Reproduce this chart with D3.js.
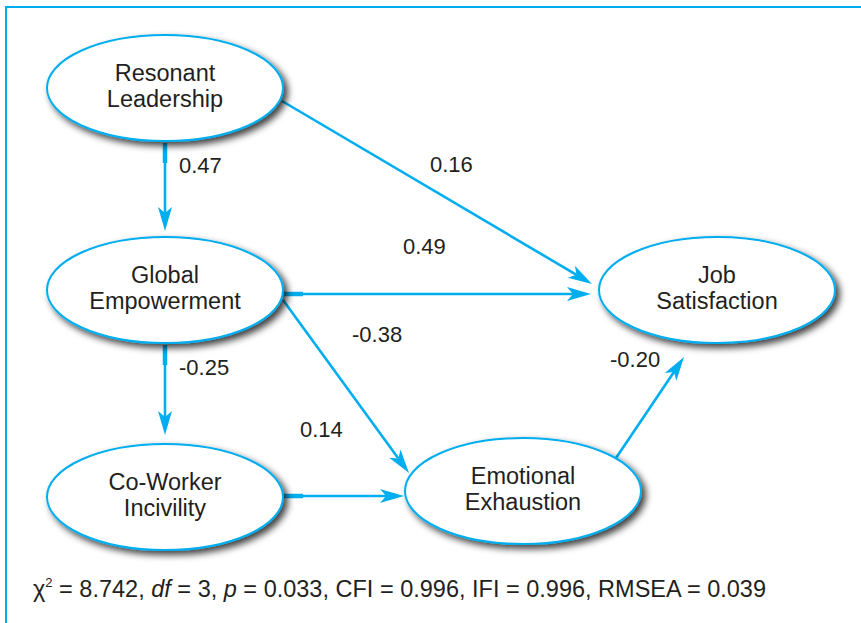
<!DOCTYPE html>
<html><head><meta charset="utf-8">
<script src="https://cdn.jsdelivr.net/npm/d3@7"></script>
<style>
html,body{margin:0;padding:0;background:#fff;}
svg{display:block;font-family:"Liberation Sans",Arial,Helvetica,sans-serif;}
</style></head>
<body><svg id="c" width="861" height="623"></svg>
<script>
// ---- data ----
const nodeIds = ["RL","GE","CWI","EE","JS"];
const nodeLines = [["Resonant","Leadership"],["Global","Empowerment"],["Co-Worker","Incivility"],["Emotional","Exhaustion"],["Job","Satisfaction"]];
const edgeFrom = ["RL","RL","GE","GE","GE","CWI","EE"];
const edgeTo   = ["GE","JS","JS","EE","CWI","EE","JS"];
const coefs    = [0.47,0.16,0.49,-0.38,-0.25,0.14,-0.20];
const fitNames = ["df","p","CFI","IFI","RMSEA"];
const chi2 = 8.742;
const fitValues = ["3","0.033","0.996","0.996","0.039"];

// ---- layout ----
const nodePos = {RL:[165,88],GE:[165,290],CWI:[165,497],EE:[523,491],JS:[717,290]};
const RX=118, RY=53;
const edgeGeom = [ // [x1,y1,x2,y2,labelX,labelY(baseline), stub]
  [165,143,165,231,179,173,1],
  [282,101,592,284,430,172,0],
  [283,294,591,294,403,254,1],
  [283,300,409,473,352,342,0],
  [165,345,165,435,179,375,1],
  [283,496,404,496,300,437,1],
  [616,458,684,357,610,367,0]
];
const BLUE="#00aeef", INK="#231f20";

const svg=d3.select("#c");
const defs=svg.append("defs");
const f=defs.append("filter").attr("id","sh").attr("x","-20%").attr("y","-20%").attr("width","150%").attr("height","160%");
f.append("feDropShadow").attr("dx",4).attr("dy",4).attr("stdDeviation",3.5).attr("flood-color","#000").attr("flood-opacity",0.75);

// frame
svg.append("line").attr("x1",5).attr("y1",7).attr("x2",861).attr("y2",7).attr("stroke",BLUE).attr("stroke-width",2);
svg.append("line").attr("x1",6).attr("y1",6).attr("x2",6).attr("y2",623).attr("stroke",BLUE).attr("stroke-width",2);

const fmt=v=>v.toFixed(2);
// edges
const eg=svg.append("g");
edgeGeom.forEach((g,i)=>{
  const [x1,y1,x2,y2,lx,ly,stub]=g;
  const dx=x2-x1, dy=y2-y1, L=Math.hypot(dx,dy), ux=dx/L, uy=dy/L, px=-uy, py=ux;
  const HL=24, HW=7, notch=6;
  const bx=x2-ux*HL, by=y2-uy*HL;
  eg.append("line").attr("x1",x1).attr("y1",y1).attr("x2",x2-ux*(HL-notch)).attr("y2",y2-uy*(HL-notch))
    .attr("stroke",BLUE).attr("stroke-width",2.6);
  if(stub) eg.append("line").attr("x1",x1).attr("y1",y1).attr("x2",x1+ux*20).attr("y2",y1+uy*20)
    .attr("stroke",BLUE).attr("stroke-width",4.5);
  const pts=[[x2,y2],[bx+px*HW,by+py*HW],[bx+ux*notch,by+uy*notch],[bx-px*HW,by-py*HW]];
  eg.append("path").attr("d","M"+pts.map(p=>p.join(",")).join("L")+"Z").attr("fill",BLUE);
  eg.append("text").attr("x",lx).attr("y",ly).attr("font-size",22).attr("fill",INK).text(fmt(coefs[i]));
});

// nodes
const ng=svg.append("g");
nodeIds.forEach((id,i)=>{
  const [cx,cy]=nodePos[id];
  ng.append("ellipse").attr("cx",cx).attr("cy",cy).attr("rx",RX).attr("ry",RY)
    .attr("fill","#fff").attr("stroke",BLUE).attr("stroke-width",2).attr("filter","url(#sh)");
  nodeLines[i].forEach((t,j)=>{
    ng.append("text").attr("x",cx).attr("y",cy-7+26*j).attr("text-anchor","middle")
      .attr("font-size",23.5).attr("fill",INK).text(t);
  });
});

// fit stats
const ft=svg.append("text").attr("x",33).attr("y",597).attr("font-size",23.5).attr("fill",INK);
ft.append("tspan").text("χ");
ft.append("tspan").attr("font-size",13).attr("dy",-10).text("2");
ft.append("tspan").attr("dy",10).text(" = "+chi2+", ");
fitNames.forEach((n,i)=>{
  const it = (n==="df"||n==="p");
  ft.append("tspan").attr("font-style",it?"italic":null).text(n);
  ft.append("tspan").text(" = "+fitValues[i]+(i<fitNames.length-1?", ":""));
});
</script></body></html>
